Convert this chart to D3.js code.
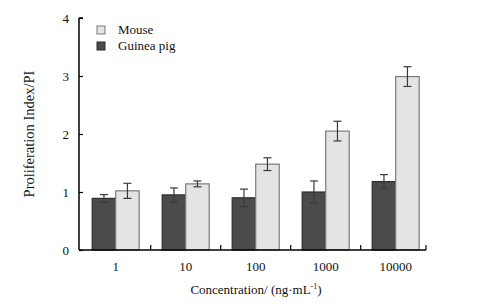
<!doctype html>
<html lang="en">
<head>
<meta charset="utf-8">
<style>
  body { margin: 0; background: #fff; }
  svg text { font-family: "Liberation Serif", "DejaVu Serif", serif; fill: #111; }
</style>
<script src="https://d3js.org/d3.v7.min.js"></script>
</head>
<body>
<svg width="482" height="305"></svg>
<script>
  // data
  const categories = ["1", "10", "100", "1000", "10000"];
  const guineaPig = [0.89, 0.95, 0.90, 1.00, 1.18];
  const guineaPigErr = [0.065, 0.12, 0.15, 0.19, 0.12];
  const mouse = [1.02, 1.14, 1.48, 2.05, 2.99];
  const mouseErr = [0.13, 0.05, 0.11, 0.17, 0.17];
  const yTicks = [0, 1, 2, 3, 4];

  const svg = d3.select("svg");
  const axisLeftX = 79, axisRightX = 426;

  const x = d3.scaleBand()
    .domain(categories)
    .range([80.7, 430.7])
    .padding(0);

  const y = d3.scaleLinear()
    .domain([0, 4])
    .range([250, 18]);

  const barW = 23.5;

  const series = [
    { name: "Guinea pig", vals: guineaPig, err: guineaPigErr, fill: "#4b4b4b", stroke: "#2e2e2e", off: -barW },
    { name: "Mouse", vals: mouse, err: mouseErr, fill: "#e4e4e4", stroke: "#7a7a7a", off: 0 }
  ];

  series.forEach(s => {
    const g = svg.append("g");
    g.selectAll("rect")
      .data(categories)
      .enter()
      .append("rect")
      .attr("x", (d) => x(d) + x.bandwidth() / 2 + s.off)
      .attr("y", (d, i) => y(s.vals[i]))
      .attr("width", barW)
      .attr("height", (d, i) => y(0) - y(s.vals[i]))
      .attr("fill", s.fill)
      .attr("stroke", s.stroke)
      .attr("stroke-width", 1.2);

    // error bars
    const eb = g.selectAll("g.err")
      .data(categories)
      .enter()
      .append("g")
      .attr("class", "err")
      .attr("stroke", "#3a3a3a")
      .attr("stroke-width", 1.2);
    const cx = d => x(d) + x.bandwidth() / 2 + s.off + barW / 2;
    eb.append("line")
      .attr("x1", cx).attr("x2", cx)
      .attr("y1", (d, i) => y(s.vals[i] + s.err[i]))
      .attr("y2", (d, i) => y(s.vals[i] - s.err[i]));
    [1, -1].forEach(sign => {
      eb.append("line")
        .attr("x1", d => cx(d) - 4).attr("x2", d => cx(d) + 4)
        .attr("y1", (d, i) => y(s.vals[i] + sign * s.err[i]))
        .attr("y2", (d, i) => y(s.vals[i] + sign * s.err[i]));
    });
  });

  // y axis
  const yAxis = svg.append("g")
    .attr("transform", `translate(${axisLeftX},0)`)
    .call(d3.axisLeft(y).tickValues(yTicks).tickSize(-4).tickPadding(10).tickFormat(d3.format("d")));
  yAxis.select(".domain").attr("d", `M0,${y(4)}H4M0,${y(4)}V${y(0)}`).attr("stroke", "#000").attr("stroke-width", 1.5);
  yAxis.selectAll(".tick line").attr("stroke", "#000").attr("stroke-width", 1.2);
  yAxis.selectAll(".tick text").attr("font-size", 13).attr("font-family", "Liberation Serif").attr("fill", "#111");

  // x axis
  svg.append("line")
    .attr("x1", axisLeftX).attr("x2", axisRightX)
    .attr("y1", y(0)).attr("y2", y(0))
    .attr("stroke", "#000").attr("stroke-width", 1.5);
  const boundaries = categories.slice(1).map(c => x(c)).concat([axisRightX]);
  svg.selectAll("line.xtick")
    .data(boundaries)
    .enter()
    .append("line")
    .attr("class", "xtick")
    .attr("x1", d => d).attr("x2", d => d)
    .attr("y1", y(0)).attr("y2", y(0) - 5)
    .attr("stroke", "#000").attr("stroke-width", 1.2);
  svg.selectAll("text.xlab")
    .data(categories)
    .enter()
    .append("text")
    .attr("class", "xlab")
    .attr("x", d => x(d) + x.bandwidth() / 2)
    .attr("y", 271)
    .attr("text-anchor", "middle")
    .attr("font-size", 13)
    .text(d => d);

  // axis titles
  svg.append("text")
    .attr("transform", "translate(34,134) rotate(-90)")
    .attr("text-anchor", "middle")
    .attr("font-size", 14.5)
    .text("Proliferation Index/PI");

  const xt = svg.append("text")
    .attr("x", 256)
    .attr("y", 294)
    .attr("text-anchor", "middle")
    .attr("font-size", 13);
  xt.append("tspan").text("Concentration/ (ng·mL");
  xt.append("tspan").attr("dy", -5).attr("font-size", 8).text("-1");
  xt.append("tspan").attr("dy", 5).text(")");

  // legend
  const legend = svg.append("g").attr("transform", "translate(97,26)");
  const legendItems = [series[1], series[0]];
  legendItems.forEach((s, i) => {
    const row = legend.append("g").attr("transform", `translate(0,${i * 16})`);
    row.append("rect")
      .attr("width", 8).attr("height", 8)
      .attr("fill", s.fill)
      .attr("stroke", s.stroke)
      .attr("stroke-width", 1);
    row.append("text")
      .attr("x", 21).attr("y", 7.5)
      .attr("font-size", 13)
      .text(s.name);
  });
</script>
</body>
</html>
